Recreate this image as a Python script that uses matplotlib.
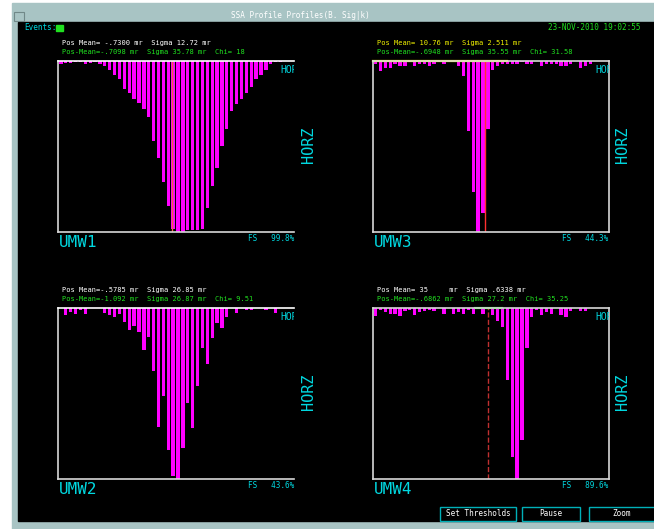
import numpy as np
import matplotlib.pyplot as plt
from matplotlib.patches import Rectangle

# histogram depths (% of full scale) for each monitor, 48 bins
umw1 = [2, 1, 1, 0.5, 0.5, 1.5, 1, 0.5, 2, 3, 5, 8, 10.5, 16.5, 18.5, 22, 24.5, 28, 33, 46.5,
        56.5, 71, 85, 98, 100, 100, 99, 99, 99, 98.5, 86, 73, 62.5, 49.5, 39.5, 29.5, 25, 22,
        19, 15, 10.5, 8, 5.5, 1.5, 0.5, 0.5, 0, 0]
umw3 = [1.8, 6, 4, 4, 1.8, 2.7, 2.7, 0, 2.7, 1.8, 1.8, 2.7, 1.8, 0, 1.8, 0, 0, 2.7, 9, 41,
        76.5, 100, 89, 40, 5.5, 2.7, 1.8, 1.8, 2, 2, 0.8, 2, 2, 0, 2.7, 2, 2, 2, 2.7, 2.7,
        2, 0, 4, 2.7, 1.8, 0, 0, 0]
umw2 = [0, 3.9, 2.5, 3.3, 1.4, 3.3, 0, 0, 0, 2.9, 4.1, 5.3, 3.3, 8.4, 12.7, 10.4, 14, 24.8,
        17, 37, 69.4, 51.5, 83, 98, 100, 82, 55.7, 70.3, 45.8, 23.4, 33, 17.6, 8.8, 11.7,
        5.3, 0, 2.9, 0, 1.4, 1.4, 0, 0, 1.4, 0, 2.9, 0, 0, 0]
umw4 = [4.5, 1.4, 2.5, 3.3, 3.3, 4.5, 2, 1.4, 3.9, 2.5, 2, 1.4, 2, 0, 3.3, 0, 3.3, 2.5, 3.3,
        1.4, 3.3, 0, 3.3, 0, 3.9, 7.8, 11.3, 42.3, 87.3, 100, 77.2, 23.4, 5.3, 1.4, 3.9, 2.5,
        3.3, 0, 3.9, 5.3, 2, 0, 2, 2, 0, 0, 0, 0]

names = ["UMW1", "UMW3", "UMW2", "UMW4"]
fs_text = ["FS   99.8%", "FS   44.3%", "FS   43.6%", "FS   89.6%"]
line1 = ["Pos Mean= -.7300 mr  Sigma 12.72 mr",
         "Pos Mean= 10.76 mr  Sigma 2.511 mr",
         "Pos Mean=-.5785 mr  Sigma 26.85 mr",
         "Pos Mean= 35     mr  Sigma .6338 mr"]
line2 = ["Pos-Mean=-.7098 mr  Sigma 35.78 mr  Chi= 18",
         "Pos-Mean=-.6948 mr  Sigma 35.55 mr  Chi= 31.58",
         "Pos-Mean=-1.092 mr  Sigma 26.87 mr  Chi= 9.51",
         "Pos-Mean=-.6862 mr  Sigma 27.2 mr  Chi= 35.25"]
markers = [23.1, 22.7, None, 23.4]
data = [umw1, umw3, umw2, umw4]

W, H = 654, 529
def fx(x): return x / W
def fy(y): return 1 - y / H

mono = "DejaVu Sans Mono"
cyan = "#00d8e0"
green = "#20e020"

fig = plt.figure(figsize=(6.54, 5.29), dpi=100, facecolor="white")
# window frame
fig.add_artist(Rectangle((fx(12), 0), 1, fy(3), transform=fig.transFigure, color="#a8c4c4", zorder=0))
fig.add_artist(Rectangle((fx(18), fy(521)), 1, fy(22) - fy(521), transform=fig.transFigure,
                         color="black", zorder=0))
fig.add_artist(Rectangle((fx(14), fy(21)), fx(10), fy(12) - fy(21), transform=fig.transFigure,
                         fill=False, ec="#708888", lw=0.8))
fig.text(fx(300), fy(16), "SSA Profile Profiles(B. Sig|k)", color="white", fontsize=5.5,
         family=mono, ha="center", va="center")
fig.text(fx(24), fy(28), "Events:", color=cyan, fontsize=5.5, family=mono, va="center")
fig.add_artist(Rectangle((fx(56), fy(31)), fx(7), fy(25) - fy(31), transform=fig.transFigure,
                         color=green))
fig.text(fx(640), fy(28), "23-NOV-2010 19:02:55", color=green, fontsize=5.5, family=mono,
         ha="right", va="center")

# panel boxes (left px, top px)
boxes = [(58, 61), (372.7, 61), (58, 308), (372.7, 308)]
x = np.arange(48)
for i, (left, top) in enumerate(boxes):
    ax = fig.add_axes([fx(left), fy(top + 171), 236 / W, 171 / H])
    ax.set_facecolor("black")
    ax.bar(x, data[i], width=0.68, align="edge", color="#ff00ff")
    ax.set_xlim(-0.25, 48.1)
    ax.set_ylim(100, 0)
    ax.set_xticks([])
    ax.set_yticks([])
    for s in ax.spines.values():
        s.set_color("#d8d8d8")
        s.set_linewidth(1.2)
    if i % 2 == 0:
        ax.spines["right"].set_visible(False)
        ax.spines["top"].set_color("white")
    if markers[i] is not None:
        col = ["#f06040", "#ff3030", None, "#c03030"][i]
        ls = "--" if i == 3 else "-"
        ax.axvline(markers[i], color=col, lw=1.0, ls=ls)
    if i == 1:
        ax.plot([-0.25, 27.3], [0, 0], color="#f0f000", lw=1.6, clip_on=False)
    if i == 3:
        ax.plot([20.8, 26.3], [0, 0], color=green, lw=1.6, clip_on=False)
    ax.text(45.3, 2.5, "HORZ", color=cyan, fontsize=7, family=mono, va="top", clip_on=True)
    # headers and labels
    c1 = "#f0f000" if i == 1 else "white"
    fig.text(fx(left + 4), fy(top - 18), line1[i], color=c1, fontsize=5, family=mono, va="center")
    fig.text(fx(left + 4), fy(top - 9), line2[i], color=green, fontsize=5, family=mono, va="center")
    fig.text(fx(left + 1), fy(top + 182), names[i], color=cyan, fontsize=11.5, family=mono, va="center")
    fig.text(fx(left + 236), fy(top + 177), fs_text[i], color=cyan, fontsize=5.5, family=mono,
             ha="right", va="center")
    fig.text(fx(left + 250), fy(top + 84), "HORZ", color=cyan, fontsize=11, family=mono,
             rotation=90, ha="center", va="center")

# buttons
for bx0, bx1, lab in [(440, 516, "Set Thresholds"), (522, 580, "Pause"), (589, 660, "Zoom")]:
    fig.add_artist(Rectangle((fx(bx0), fy(521)), fx(bx1 - bx0), fy(507) - fy(521),
                             transform=fig.transFigure, fill=False, ec="#00b0b8", lw=1.0))
    fig.text(fx((bx0 + min(bx1, 654)) / 2), fy(514), lab, color="white", fontsize=5.5,
             family=mono, ha="center", va="center")

fig.savefig("out.png", dpi=100, facecolor=fig.get_facecolor())
